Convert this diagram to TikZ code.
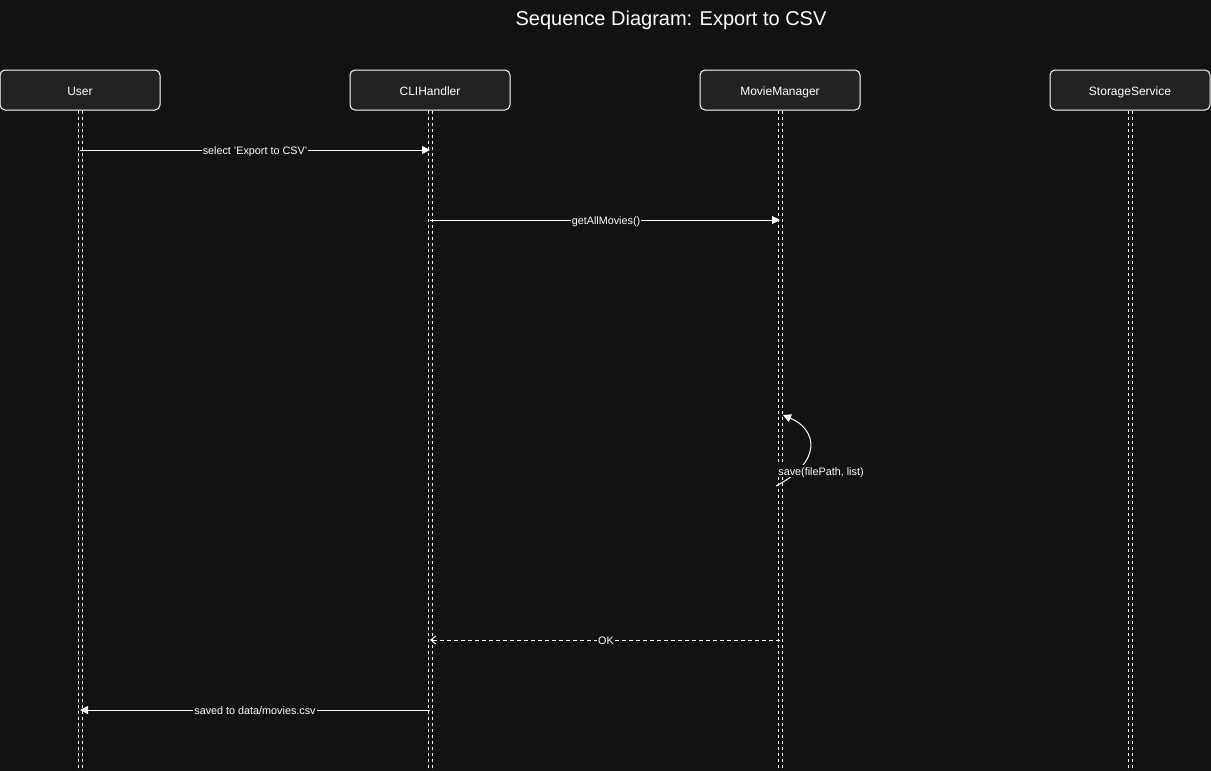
\documentclass[tikz,border=0pt]{standalone}
\usepackage{fontspec}
\setmainfont{Liberation Sans}
\usetikzlibrary{arrows.meta}
\definecolor{bg}{HTML}{121212}
\definecolor{boxfill}{HTML}{222222}
\tikzset{
  actor/.style={draw=white, fill=boxfill, rounded corners=2.5pt, line width=0.5pt,
    minimum width=80pt, minimum height=20pt, inner sep=0pt, text=white,
    text height=5.3pt, text depth=0pt, font=\fontsize{6}{7}\selectfont},
  lifeline/.style={draw=white, line width=0.45pt, dash pattern=on 1.5pt off 1.5pt},
  msg/.style={draw=white, line width=0.5pt, -{Triangle[length=4pt,width=4pt]}},
  reply/.style={draw=white, line width=0.5pt, dash pattern=on 2pt off 1.5pt, -{Straight Barb[length=2.5pt,width=4pt]}},
  lbl/.style={fill=bg, text=white, inner sep=0.5pt, text height=4.6pt, text depth=0pt,
    font=\fontsize{5.4}{6}\selectfont},
}
\begin{document}
\begin{tikzpicture}[x=0.5pt,y=-0.5pt]
\fill[bg] (0,0) rectangle (1211,771);
\useasboundingbox (0,0) rectangle (1211,771);
\node[text=white, font=\fontsize{10}{12}\selectfont] (title) at (671,20.5) {Sequence Diagram: Export to CSV};
% actors
\node[actor] (user) at (80,90) {User};
\node[actor] (cli) at (430,90) {CLIHandler};
\node[actor] (mm) at (780,90) {MovieManager};
\node[actor] (ss) at (1130,90) {StorageService};
% lifelines
\foreach \n/\x in {user/80,cli/430,mm/780,ss/1130}{
  \coordinate (\n-end) at (\x,771);
  \draw[lifeline] ([xshift=-1pt]\n.south) -- ([xshift=-1pt]\n-end);
  \draw[lifeline] ([xshift=1pt]\n.south) -- ([xshift=1pt]\n-end);
}
% message coordinates
\coordinate (m1s) at (80,150); \coordinate (m1e) at (430,150);
\coordinate (m2s) at (430,220); \coordinate (m2e) at (780,220);
\coordinate (m3s) at (776,486); \coordinate (m3e) at (783,415);
\coordinate (m4s) at (780,640); \coordinate (m4e) at (430,640);
\coordinate (m5s) at (430,710); \coordinate (m5e) at (80,710);
% messages
\draw[msg] (m1s) -- node[lbl] {select 'Export to CSV'} (m1e);
\draw[msg] (m2s) -- node[lbl, xshift=0.5pt] {getAllMovies()} (m2e);
\draw[draw=white, line width=0.5pt, -{Triangle[length=4pt,width=4pt]}] (m3s) .. controls (822,462) and (818,430) .. (m3e);
\node[lbl, anchor=west] (selflbl) at (777,471) {save(filePath, list)};
\draw[reply] (m4s) -- node[lbl, xshift=0.5pt] {OK} (m4e);
\draw[msg] (m5s) -- node[lbl] {saved to data/movies.csv} (m5e);
\end{tikzpicture}
\end{document}
